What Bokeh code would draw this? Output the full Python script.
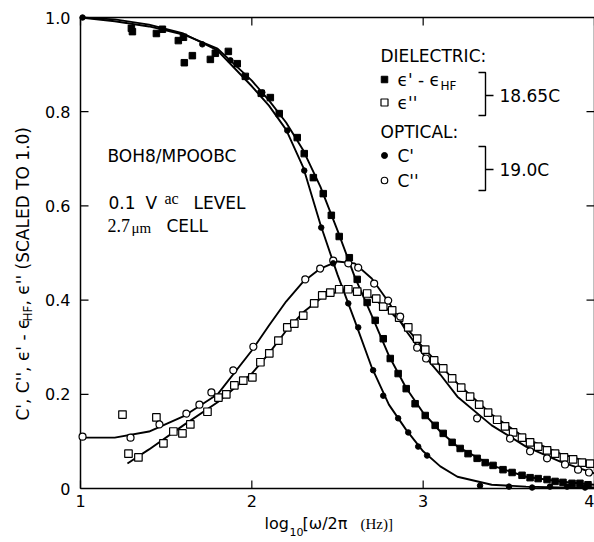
import math
from bokeh.plotting import figure
from bokeh.models import Range1d
from bokeh.embed import file_html
from bokeh.resources import INLINE
from bokeh.core.properties import value

# ---------------- data ----------------
# C' (optical, filled circles)
cp_x = [1.012, 1.711, 1.875, 2.061, 2.207, 2.306, 2.405, 2.475, 2.563, 2.621, 2.708,
        2.767, 2.854, 2.913, 2.971, 3.023, 3.332, 3.501, 3.636, 3.740, 3.840, 3.945]
cp_y = [1.000, 0.943, 0.909, 0.841, 0.760, 0.675, 0.554, 0.478, 0.393, 0.342, 0.251,
        0.197, 0.149, 0.119, 0.089, 0.070, 0.006, 0.004, 0.002, 0.004, 0.004, 0.002]
# C' fitted curve
cp_fit_x = [1.0, 1.2, 1.4, 1.6, 1.8, 2.0, 2.1, 2.2, 2.3, 2.4, 2.5, 2.6, 2.7, 2.8, 2.9,
            3.0, 3.1, 3.2, 3.4, 3.6, 3.8, 4.0]
cp_fit_y = [1.000, 0.996, 0.985, 0.966, 0.930, 0.854, 0.813, 0.762, 0.682, 0.561, 0.454,
            0.357, 0.257, 0.178, 0.125, 0.079, 0.047, 0.025, 0.008, 0.004, 0.002, 0.002]

# C'' (optical, open circles)
cpp_x = [1.012, 1.292, 1.461, 1.618, 1.694, 1.764, 1.892, 2.009, 2.312, 2.399, 2.475,
         2.563, 2.621, 2.714, 2.796, 2.866, 2.965, 3.017, 3.315, 3.507, 3.624, 3.723,
         3.828, 3.904, 3.968]
cpp_y = [0.110, 0.108, 0.136, 0.159, 0.178, 0.204, 0.251, 0.301, 0.444, 0.467, 0.484,
         0.478, 0.469, 0.435, 0.399, 0.365, 0.299, 0.276, 0.149, 0.106, 0.079, 0.064,
         0.051, 0.040, 0.034]
cpp_fit_x = [1.0, 1.2, 1.4, 1.6, 1.8, 2.0, 2.1, 2.2, 2.3, 2.4, 2.5, 2.6, 2.7, 2.8, 2.9,
             3.0, 3.1, 3.2, 3.4, 3.6, 3.8, 4.0]
cpp_fit_y = [0.108, 0.108, 0.121, 0.153, 0.200, 0.293, 0.346, 0.397, 0.439, 0.467, 0.482,
             0.478, 0.446, 0.395, 0.335, 0.285, 0.242, 0.195, 0.134, 0.089, 0.057, 0.032]

# eps' - eps_HF (dielectric, filled squares)
ep_x = [1.297, 1.303, 1.443, 1.478, 1.571, 1.601, 1.606, 1.653, 1.758, 1.787, 1.863,
        1.915, 1.962, 2.055, 2.108, 2.160, 2.265, 2.306, 2.359, 2.417, 2.464, 2.510,
        2.569, 2.615, 2.673, 2.720, 2.767, 2.808, 2.854, 2.901, 2.953, 3.012, 3.070,
        3.117, 3.169, 3.216, 3.262, 3.315, 3.362, 3.408, 3.466, 3.519, 3.577, 3.624,
        3.671, 3.723, 3.770, 3.816, 3.869, 3.915, 3.962]
ep_y = [0.977, 0.970, 0.966, 0.975, 0.951, 0.958, 0.904, 0.919, 0.911, 0.924, 0.928,
        0.902, 0.875, 0.839, 0.830, 0.796, 0.745, 0.711, 0.660, 0.626, 0.580, 0.535,
        0.490, 0.444, 0.395, 0.357, 0.318, 0.276, 0.244, 0.212, 0.180, 0.155, 0.134,
        0.117, 0.098, 0.085, 0.074, 0.064, 0.055, 0.049, 0.040, 0.034, 0.028, 0.023,
        0.021, 0.019, 0.015, 0.013, 0.011, 0.011, 0.008]
ep_fit_x = [1.0, 1.2, 1.4, 1.6, 1.8, 2.0, 2.1, 2.2, 2.3, 2.4, 2.5, 2.6, 2.7, 2.8, 2.9,
            3.0, 3.1, 3.2, 3.4, 3.6, 3.8, 4.0]
ep_fit_y = [1.000, 0.992, 0.981, 0.964, 0.934, 0.866, 0.824, 0.777, 0.718, 0.641, 0.548,
            0.450, 0.367, 0.282, 0.214, 0.161, 0.121, 0.089, 0.049, 0.025, 0.015, 0.008]

# eps'' (dielectric, open squares)
epp_x = [1.245, 1.443, 1.280, 1.338, 1.484, 1.542, 1.595, 1.641, 1.741, 1.805, 1.851,
         1.898, 1.950, 2.003, 2.050, 2.102, 2.155, 2.207, 2.248, 2.300, 2.364, 2.411,
         2.458, 2.510, 2.563, 2.615, 2.673, 2.726, 2.767, 2.819, 2.860, 2.913, 2.965,
         3.012, 3.064, 3.117, 3.169, 3.222, 3.274, 3.327, 3.379, 3.432, 3.478, 3.525,
         3.577, 3.624, 3.671, 3.723, 3.770, 3.822, 3.875, 3.927, 3.974]
epp_y = [0.157, 0.151, 0.074, 0.066, 0.096, 0.121, 0.117, 0.136, 0.163, 0.193, 0.200,
         0.219, 0.229, 0.236, 0.268, 0.287, 0.314, 0.342, 0.350, 0.367, 0.393, 0.410,
         0.416, 0.423, 0.423, 0.418, 0.414, 0.403, 0.386, 0.378, 0.363, 0.342, 0.318,
         0.295, 0.272, 0.255, 0.234, 0.214, 0.195, 0.178, 0.161, 0.146, 0.132, 0.119,
         0.108, 0.098, 0.089, 0.081, 0.074, 0.066, 0.062, 0.055, 0.053]
epp_fit_x = [1.274, 1.4, 1.6, 1.8, 2.0, 2.1, 2.2, 2.3, 2.4, 2.5, 2.6, 2.7, 2.8, 2.9,
             3.0, 3.1, 3.2, 3.4, 3.6, 3.8, 4.0]
epp_fit_y = [0.053, 0.083, 0.134, 0.183, 0.244, 0.287, 0.335, 0.374, 0.403, 0.418, 0.420,
             0.406, 0.378, 0.342, 0.299, 0.261, 0.223, 0.157, 0.106, 0.074, 0.053]

x_ticks = [1, 2, 3, 4]
x_tick_labels = ["1", "2", "3", "4"]
y_ticks = [0, 0.2, 0.4, 0.6, 0.8, 1.0]
y_tick_labels = ["0", "0.2", "0.4", "0.6", "0.8", "1.0"]

# ---------------- layout (pixel positions of the plot box) ----------------
W, H = 594, 542
FL, FT, FW, FH = 80, 17, 514, 471
XMIN, XMAX, YMIN, YMAX = 1.0, 4.0, 0.0, 1.0


def px2x(px):
    return XMIN + (px - FL) * (XMAX - XMIN) / FW


def px2y(py):
    return YMIN + (FT + FH - py) * (YMAX - YMIN) / FH


SANS = "DejaVu Sans"
SERIF = "Liberation Serif"

p = figure(width=W, height=H, x_range=Range1d(px2x(0), px2x(W)),
           y_range=Range1d(px2y(H), px2y(0)), output_backend="svg",
           toolbar_location=None, min_border=0)
p.axis.visible = False
p.grid.visible = False
p.outline_line_color = None
p.background_fill_color = "white"
p.border_fill_color = "white"

# plot box and inward ticks
p.line([XMIN, XMAX, XMAX, XMIN, XMIN], [YMIN, YMIN, YMAX, YMAX, YMIN],
       line_color="black", line_width=1.5)
tlx = 8 * (XMAX - XMIN) / FW
tly = 8 * (YMAX - YMIN) / FH
nx, ny = len(x_ticks), len(y_ticks)
p.segment(x_ticks, [YMIN] * nx, x_ticks, [YMIN + tly] * nx, line_color="black", line_width=1.2)
p.segment(x_ticks, [YMAX] * nx, x_ticks, [YMAX - tly] * nx, line_color="black", line_width=1.2)
p.segment([XMIN] * ny, y_ticks, [XMIN + tlx] * ny, y_ticks, line_color="black", line_width=1.2)
p.segment([XMAX] * ny, y_ticks, [XMAX - tlx] * ny, y_ticks, line_color="black", line_width=1.2)

# tick labels (the last one, at the window edge, is kept inside the picture)
p.text(x_ticks[:-1], [px2y(494)] * (nx - 1), text=x_tick_labels[:-1], text_font=value(SANS),
       text_font_size="16px", text_align="center", text_baseline="top", text_color="black")
p.text(x_ticks[-1:], [px2y(494)], text=x_tick_labels[-1:], text_font=value(SANS),
       text_font_size="16px", text_align="right", text_baseline="top", text_color="black")
p.text([px2x(70)] * ny, y_ticks, text=y_tick_labels, text_font=value(SANS),
       text_font_size="16px", text_align="right", text_baseline="middle", text_color="black")

# ---------------- curves and points ----------------
LW = 1.9
p.line(cp_fit_x, cp_fit_y, line_color="black", line_width=LW)
p.line(cpp_fit_x, cpp_fit_y, line_color="black", line_width=LW)
p.line(ep_fit_x, ep_fit_y, line_color="black", line_width=LW)
p.line(epp_fit_x, epp_fit_y, line_color="black", line_width=LW)

p.scatter(epp_x, epp_y, marker="square", size=7.5, fill_color="white",
          line_color="black", line_width=1.2)
p.scatter(cpp_x, cpp_y, marker="circle", size=7, fill_color="white",
          line_color="black", line_width=1.2)
p.scatter(ep_x, ep_y, marker="square", size=6.5, fill_color="black", line_color="black")
p.scatter(cp_x, cp_y, marker="circle", size=5.5, fill_color="black", line_color="black")


# ---------------- texts ----------------
def txt(x_px, y_px, s, font=SANS, size="17px", align="left", baseline="middle", angle=0.0):
    p.text([px2x(x_px)], [px2y(y_px)], text=[s], text_font=value(font),
           text_font_size=size, text_align=align, text_baseline=baseline,
           text_color="black", angle=angle)


txt(107, 155, "BOH8/MPOOBC")
txt(108, 202, "0.1")
txt(145, 202, "V")
txt(164, 198, "ac", font=SERIF, size="16px")
txt(193, 202, "LEVEL")
txt(107, 225, "2.7", font=SERIF, size="18px")
txt(131, 227, "μm", font=SERIF, size="15px")
txt(166, 225, "CELL")

# legend
txt(380, 55, "DIELECTRIC:")
txt(397, 79, "ϵ' - ϵ")
txt(440, 85, "HF", size="12px")
txt(397, 102, "ϵ''")
txt(499, 95, "18.65C")
txt(380, 131, "OPTICAL:")
txt(397, 155, "C'")
txt(397, 180, "C''")
txt(499, 169, "19.0C")

p.scatter([px2x(384)], [px2y(79)], marker="square", size=6.5, fill_color="black",
          line_color="black")
p.scatter([px2x(384)], [px2y(102)], marker="square", size=7, fill_color="white",
          line_color="black", line_width=1.2)
p.scatter([px2x(384)], [px2y(155)], marker="circle", size=6, fill_color="black",
          line_color="black")
p.scatter([px2x(384)], [px2y(180)], marker="circle", size=6.5, fill_color="white",
          line_color="black", line_width=1.2)

for top, bot, mid in ((72, 115, 95), (146, 190, 169)):
    bx = px2x(485)
    p.line([px2x(478), bx, bx, px2x(478)], [px2y(top), px2y(top), px2y(bot), px2y(bot)],
           line_color="black", line_width=1.4)
    p.line([bx, px2x(493)], [px2y(mid), px2y(mid)], line_color="black", line_width=1.4)

# x-axis title: log10[ω/2π (Hz)]
txt(264, 523, "log", size="16px", baseline="alphabetic")
txt(289, 531, "10", size="11px", baseline="alphabetic")
txt(302, 523, "[ω/2π", size="16px", baseline="alphabetic")
txt(360, 523, "(Hz)]", font=SERIF, size="15px", baseline="alphabetic")

# y-axis title (rotated): C', C'', ϵ' - ϵHF, ϵ'' (SCALED TO 1.0)
ROT = math.pi / 2
txt(22, 420, "C', C'', ϵ' - ϵ", size="17px", angle=ROT)
txt(27, 321, "HF", size="12px", angle=ROT)
txt(22, 305, ", ϵ'' (SCALED TO 1.0)", size="17px", angle=ROT)

open("out.html", "w").write(file_html(p, INLINE))
